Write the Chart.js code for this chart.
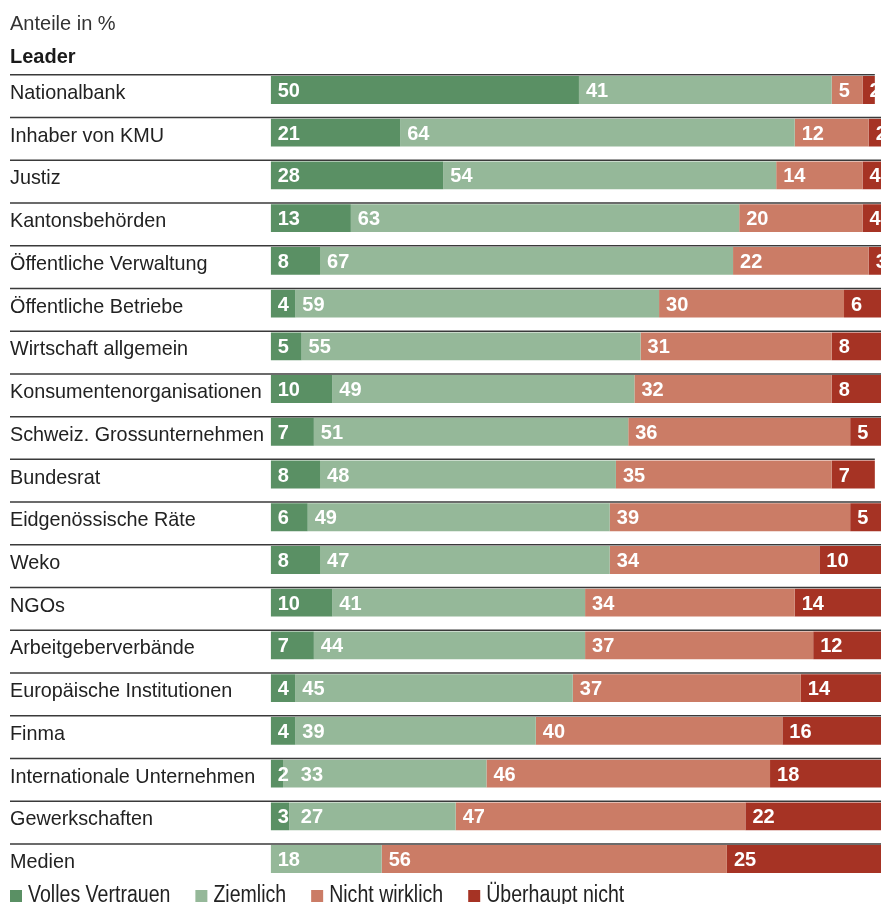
<!DOCTYPE html>
<html lang="de">
<head>
<meta charset="utf-8">
<title>Vertrauen in Institutionen – Leader</title>
<script src="https://cdn.jsdelivr.net/npm/chart.js@4.4.1/dist/chart.umd.min.js"></script>
<style>
  html, body { margin: 0; padding: 0; background: #fff; }
  #wrap { width: 881px; height: 904px; }
</style>
</head>
<body>
<div id="wrap"><canvas id="chart" width="881" height="904"></canvas></div>
<script>
// Daten (Anteile in %)
const kategorien = [
  "Nationalbank", "Inhaber von KMU", "Justiz", "Kantonsbehörden",
  "Öffentliche Verwaltung", "Öffentliche Betriebe", "Wirtschaft allgemein",
  "Konsumentenorganisationen", "Schweiz. Grossunternehmen", "Bundesrat",
  "Eidgenössische Räte", "Weko", "NGOs", "Arbeitgeberverbände",
  "Europäische Institutionen", "Finma", "Internationale Unternehmen",
  "Gewerkschaften", "Medien"
];
const vollesVertrauen = [50, 21, 28, 13, 8, 4, 5, 10, 7, 8, 6, 8, 10, 7, 4, 4, 2, 3, 0];
const ziemlich        = [41, 64, 54, 63, 67, 59, 55, 49, 51, 48, 49, 47, 41, 44, 45, 39, 33, 27, 18];
const nichtWirklich   = [5, 12, 14, 20, 22, 30, 31, 32, 36, 35, 39, 34, 34, 37, 37, 40, 46, 47, 56];
const ueberhauptNicht = [2, 2, 4, 4, 3, 6, 8, 8, 5, 7, 5, 10, 14, 12, 14, 16, 18, 22, 25];

const serienNamen = ["Volles Vertrauen", "Ziemlich", "Nicht wirklich", "Überhaupt nicht"];
const farben = ["#5a9064", "#95b899", "#cb7c66", "#a63324"];

const schrift = "'Liberation Sans', Arial, sans-serif";

const werte = [vollesVertrauen, ziemlich, nichtWirklich, ueberhauptNicht];

// Beschriftungen, Trennlinien und Legende
const beschriftung = {
  id: "beschriftung",
  afterDraw(chart) {
    const ctx = chart.ctx;
    ctx.save();
    ctx.textAlign = "left";
    ctx.textBaseline = "alphabetic";

    // Kopf
    ctx.fillStyle = "#333";
    ctx.font = "20px " + schrift;
    ctx.fillText("Anteile in %", 10, 30);
    ctx.fillStyle = "#1a1a1a";
    ctx.font = "bold 20px " + schrift;
    ctx.fillText("Leader", 10, 63);

    const metas = werte.map((_, d) => chart.getDatasetMeta(d));

    kategorien.forEach((name, i) => {
      const erster = metas[0].data[i];
      const letzter = metas[metas.length - 1].data[i];
      const mitte = erster.y;
      const oben = mitte - erster.height / 2;
      const ende = Math.min(letzter.x, chart.width);

      // Trennlinie über der Zeile
      ctx.strokeStyle = "#3a3a3a";
      ctx.lineWidth = 1.5;
      ctx.beginPath();
      ctx.moveTo(10, oben - 1.2);
      ctx.lineTo(ende, oben - 1.2);
      ctx.stroke();

      // Name
      ctx.fillStyle = "#222";
      ctx.font = "19.8px " + schrift;
      ctx.fillText(name, 10, mitte + 9);

      // Werte im Balken
      ctx.fillStyle = "#fff";
      ctx.font = "bold 20px " + schrift;
      let frei = 0;
      metas.forEach((meta, d) => {
        const v = werte[d][i];
        if (v <= 0) return;
        const el = meta.data[i];
        const lx = Math.max(Math.min(el.base, el.x) + 7, frei);
        ctx.fillText(String(v), lx, mitte + 7);
        frei = lx + ctx.measureText(String(v)).width + 12;
      });
    });

    // Legende (schmal gesetzt)
    const stauchung = 0.85;
    let lx = 10;
    ctx.font = "23px " + schrift;
    serienNamen.forEach((n, d) => {
      ctx.fillStyle = farben[d];
      ctx.fillRect(lx, 890, 12, 12);
      lx += 12 + 6;
      ctx.save();
      ctx.translate(lx, 902);
      ctx.scale(stauchung, 1);
      ctx.fillStyle = "#222";
      ctx.fillText(n, 0, 0);
      ctx.restore();
      lx += ctx.measureText(n).width * stauchung + 25;
    });

    ctx.restore();
  }
};

const config = {
  type: "bar",
  data: {
    labels: kategorien,
    datasets: serienNamen.map((n, d) => ({
      label: n,
      data: werte[d],
      backgroundColor: farben[d],
      borderWidth: 0,
      categoryPercentage: 1,
      barPercentage: 0.652
    }))
  },
  options: {
    indexAxis: "y",
    responsive: false,
    animation: false,
    layout: { padding: { left: 270.7, right: 0, top: 68.6, bottom: 23.6 } },
    scales: {
      // Ausschnitt: der rechte Rand des Originals liegt knapp vor 100 %
      x: { stacked: true, min: 0, max: 99, display: false },
      y: { stacked: true, display: false }
    },
    plugins: {
      legend: { display: false },
      tooltip: { enabled: false }
    }
  },
  plugins: [beschriftung]
};

const myChart = new Chart(document.getElementById("chart"), config);
</script>
</body>
</html>
